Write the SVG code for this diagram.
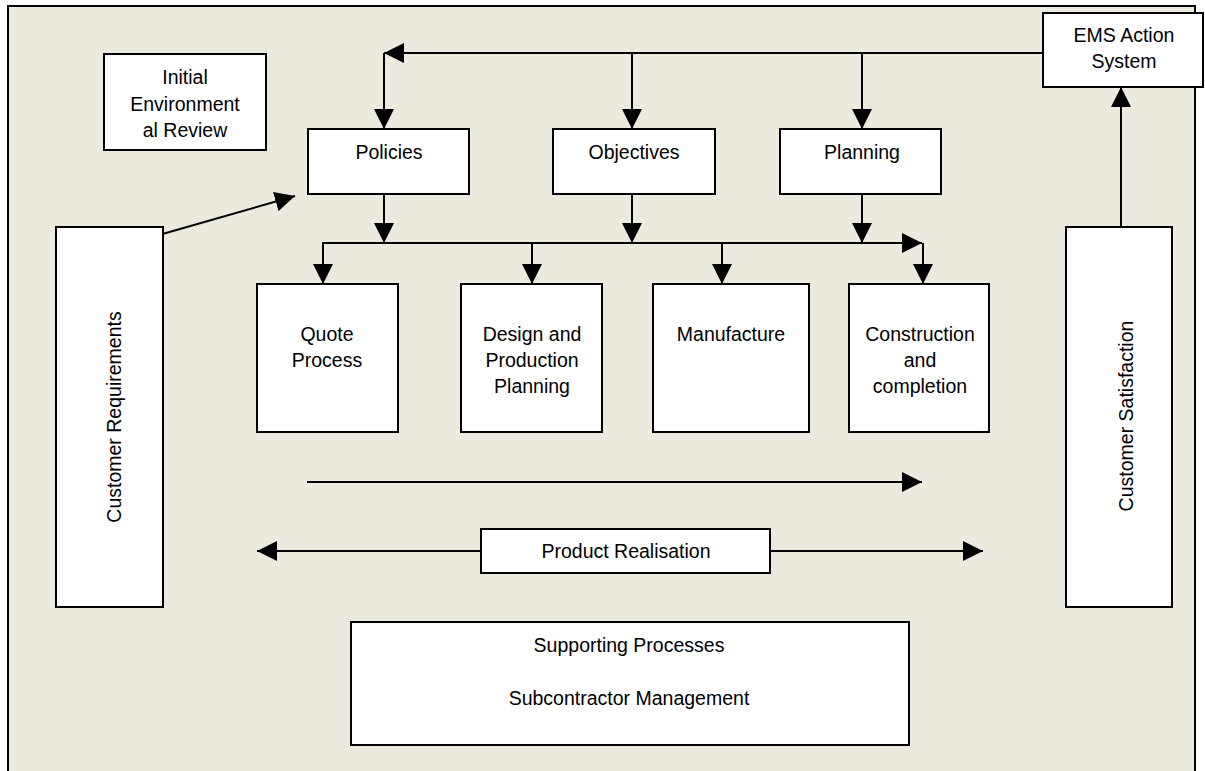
<svg xmlns="http://www.w3.org/2000/svg" width="1205" height="771" viewBox="0 0 1205 771">
<defs>
<marker id="ah" viewBox="0 0 20 20" refX="20" refY="10" markerWidth="20" markerHeight="20" markerUnits="userSpaceOnUse" orient="auto"><path d="M0,0 L20,10 L0,20 z" fill="#000"/></marker>
<style>
.box{fill:#fff;stroke:#000;stroke-width:2}
.t{font-family:"Liberation Sans",Arial,sans-serif;font-size:19.5px;fill:#000;text-anchor:middle}
.c{stroke:#000;stroke-width:2;fill:none;marker-end:url(#ah)}
.l{stroke:#000;stroke-width:2;fill:none}
</style>
</defs>
<rect x="0" y="0" width="1205" height="771" fill="#fff"/>
<rect x="8" y="6" width="1187" height="780" fill="#ECE9DF" stroke="#000" stroke-width="2"/>

<g id="connectors">
<line class="c" x1="1043" y1="53" x2="384" y2="53"/>
<line class="c" x1="384" y1="53" x2="384" y2="129"/>
<line class="c" x1="632" y1="53" x2="632" y2="129"/>
<line class="c" x1="862" y1="53" x2="862" y2="129"/>
<line class="c" x1="384" y1="194" x2="384" y2="243"/>
<line class="c" x1="632" y1="194" x2="632" y2="243"/>
<line class="c" x1="862" y1="194" x2="862" y2="243"/>
<line class="c" x1="322" y1="243" x2="922" y2="243"/>
<line class="c" x1="323" y1="243" x2="323" y2="284"/>
<line class="c" x1="532" y1="243" x2="532" y2="284"/>
<line class="c" x1="722" y1="243" x2="722" y2="284"/>
<line class="c" x1="923" y1="243" x2="923" y2="284"/>
<line class="c" x1="152" y1="237" x2="295" y2="196"/>
<line class="c" x1="1121" y1="227" x2="1121" y2="87"/>
<line class="c" x1="307" y1="482" x2="922" y2="482"/>
<line class="c" x1="481" y1="551" x2="257" y2="551"/>
<line class="c" x1="770" y1="551" x2="983" y2="551"/>
</g>

<g id="initial-review">
<rect class="box" x="104" y="54" width="162" height="96"/>
<text class="t" x="185" y="84">Initial</text>
<text class="t" x="185" y="111">Environment</text>
<text class="t" x="185" y="137">al Review</text>
</g>

<g id="ems">
<rect class="box" x="1043" y="13" width="160" height="74"/>
<text class="t" x="1124" y="42">EMS Action</text>
<text class="t" x="1124" y="68">System</text>
</g>

<g id="policies">
<rect class="box" x="308" y="129" width="161" height="65"/>
<text class="t" x="389" y="159">Policies</text>
</g>
<g id="objectives">
<rect class="box" x="553" y="129" width="162" height="65"/>
<text class="t" x="634" y="159">Objectives</text>
</g>
<g id="planning">
<rect class="box" x="780" y="129" width="161" height="65"/>
<text class="t" x="862" y="159">Planning</text>
</g>

<g id="quote">
<rect class="box" x="257" y="284" width="141" height="148"/>
<text class="t" x="327" y="341">Quote</text>
<text class="t" x="327" y="367">Process</text>
</g>
<g id="design">
<rect class="box" x="461" y="284" width="141" height="148"/>
<text class="t" x="532" y="341">Design and</text>
<text class="t" x="532" y="367">Production</text>
<text class="t" x="532" y="393">Planning</text>
</g>
<g id="manufacture">
<rect class="box" x="653" y="284" width="156" height="148"/>
<text class="t" x="731" y="341">Manufacture</text>
</g>
<g id="construction">
<rect class="box" x="849" y="284" width="140" height="148"/>
<text class="t" x="920" y="341">Construction</text>
<text class="t" x="920" y="367">and</text>
<text class="t" x="920" y="393">completion</text>
</g>

<g id="customer-requirements">
<rect class="box" x="56" y="227" width="107" height="380"/>
<text class="t" transform="translate(121,417) rotate(-90)">Customer Requirements</text>
</g>
<g id="customer-satisfaction">
<rect class="box" x="1066" y="227" width="106" height="380"/>
<text class="t" transform="translate(1133,416) rotate(-90)">Customer Satisfaction</text>
</g>

<g id="product-realisation">
<rect class="box" x="481" y="529" width="289" height="44"/>
<text class="t" x="626" y="558">Product Realisation</text>
</g>

<g id="supporting">
<rect class="box" x="351" y="622" width="558" height="123"/>
<text class="t" x="629" y="652">Supporting Processes</text>
<text class="t" x="629" y="705">Subcontractor Management</text>
</g>
</svg>
